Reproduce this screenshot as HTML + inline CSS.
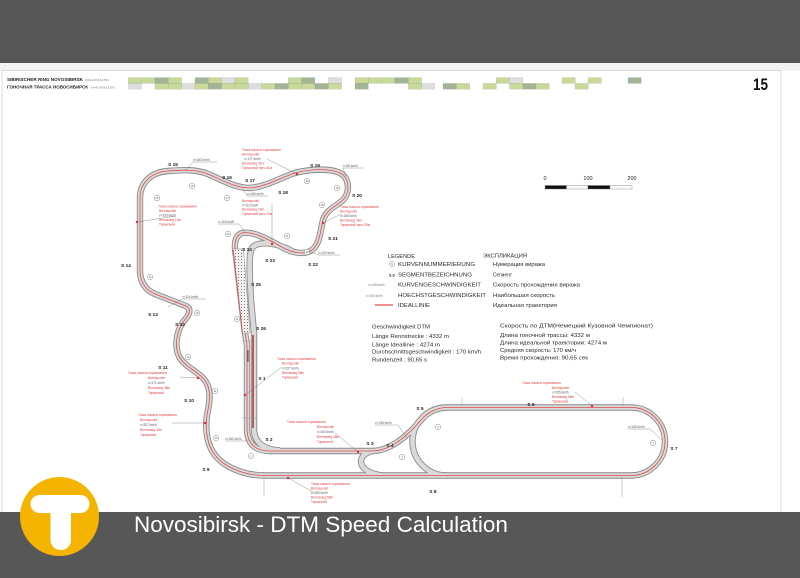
<!DOCTYPE html>
<html><head><meta charset="utf-8"><style>
html,body{margin:0;padding:0;background:#fff;}
svg{display:block;font-family:"Liberation Sans","Noto Sans CJK SC",sans-serif;}
</style></head><body>
<svg width="800" height="578" viewBox="0 0 800 578" xmlns="http://www.w3.org/2000/svg">
<defs>
<pattern id="dots" width="3" height="3" patternUnits="userSpaceOnUse"><rect width="3" height="3" fill="#f2f2f2"/><circle cx="1.5" cy="1.5" r="0.5" fill="#555"/></pattern>
<path id="m" d="M245,333 L247,345 L247,428 Q247,451 270,451 L372,451 C392,451 410,433 421,420 A34,34 0 0 1 446.5,407.5 L631,407.5 A34,34 0 0 1 631,475.5 L265,475.5 C245,475.5 225,468 215,455 C207,445 205,430 207,415 C209,405 212,392 206,382 C200,372 186,368 180,358 C174,348 176,333 183,322 Q194,310 186,306 L155,294 Q141,288 140,272 L140,198 C140,182 152,172 168,171 C182,170 196,169 208,174 C222,180 235,188 250,188 C265,187 280,178 295,173 C310,169 330,168 340,173 C350,178 350,193 343,200 C335,207 326,210 323,220 C320,232 320,244 312,250 C303,256 290,252 280,246 C266,238 252,231 242,233 C234,236 234,246 236,256 Z"/>
<path id="pit" d="M292,251 C278,243 258,240 252,248 C248,256 250,280 251,300 L254,333 L254,430 Q255,449 280,450.5"/>
<path id="ov" d="M446.5,407.5 A34,34 0 0 0 446.5,475.5"/>
<path id="s3" d="M372,451 C356,455 356,472 382,475.5"/>
</defs>

<!-- bands / page -->
<rect x="0" y="0" width="800" height="63" fill="#575757"/>
<rect x="0" y="63" width="800" height="8" fill="#f2f2f2"/>
<rect x="2" y="70.5" width="779" height="445" fill="#fff" stroke="#d4d4d4" stroke-width="0.8"/>

<!-- header -->
<text x="7" y="81" font-size="4.6" font-weight="bold" fill="#222" textLength="76" lengthAdjust="spacingAndGlyphs">SIBIRISCHER RING NOVOSIBIRSK</text>
<text x="85" y="81" font-size="3" fill="#888" textLength="24" lengthAdjust="spacingAndGlyphs">M42/M1150</text>
<text x="7" y="88.5" font-size="4.6" font-weight="bold" fill="#222" textLength="81" lengthAdjust="spacingAndGlyphs">ГОНОЧНАЯ ТРАССА НОВОСИБИРСК</text>
<text x="91" y="88.5" font-size="3" fill="#888" textLength="24" lengthAdjust="spacingAndGlyphs">M42/M1150</text>
<text x="753" y="90" font-size="16.5" font-weight="bold" fill="#111" textLength="15" lengthAdjust="spacingAndGlyphs">15</text>

<!-- block strip -->
<g stroke="rgba(0,0,0,0.15)" stroke-width="0.4">
<rect x="128.3" y="77.6" width="13.3" height="5.8" fill="#c9d99a"/><rect x="128.3" y="83.4" width="13.3" height="5.8" fill="#dedede"/>
<rect x="141.6" y="77.6" width="13.3" height="5.8" fill="#c9d99a"/>
<rect x="155" y="77.6" width="13.3" height="5.8" fill="#a2b596"/><rect x="155" y="83.4" width="13.3" height="5.8" fill="#c9d99a"/>
<rect x="168.3" y="77.6" width="13.3" height="5.8" fill="#c9d99a"/><rect x="168.3" y="83.4" width="13.3" height="5.8" fill="#c9d99a"/>
<rect x="181.6" y="83.4" width="13.3" height="5.8" fill="#dedede"/>
<rect x="195" y="77.6" width="13.3" height="5.8" fill="#a2b596"/><rect x="195" y="83.4" width="13.3" height="5.8" fill="#c9d99a"/>
<rect x="208.3" y="77.6" width="13.3" height="5.8" fill="#c9d99a"/><rect x="208.3" y="83.4" width="13.3" height="5.8" fill="#a2b596"/>
<rect x="221.6" y="77.6" width="13.3" height="5.8" fill="#dedede"/><rect x="221.6" y="83.4" width="13.3" height="5.8" fill="#c9d99a"/>
<rect x="235" y="77.6" width="13.3" height="5.8" fill="#c9d99a"/><rect x="235" y="83.4" width="13.3" height="5.8" fill="#c9d99a"/>
<rect x="248.3" y="83.4" width="13.3" height="5.8" fill="#dedede"/>
<rect x="261.6" y="83.4" width="13.3" height="5.8" fill="#c9d99a"/>
<rect x="275" y="83.4" width="13.3" height="5.8" fill="#a2b596"/>
<rect x="288.3" y="77.6" width="13.3" height="5.8" fill="#c9d99a"/><rect x="288.3" y="83.4" width="13.3" height="5.8" fill="#c9d99a"/>
<rect x="301.6" y="77.6" width="13.3" height="5.8" fill="#a2b596"/><rect x="301.6" y="83.4" width="13.3" height="5.8" fill="#c9d99a"/>
<rect x="315" y="83.4" width="13.3" height="5.8" fill="#a2b596"/>
<rect x="328.3" y="77.6" width="13.3" height="5.8" fill="#dedede"/><rect x="328.3" y="83.4" width="13.3" height="5.8" fill="#c9d99a"/>
<rect x="355" y="77.6" width="13.3" height="5.8" fill="#c9d99a"/><rect x="355" y="83.4" width="13.3" height="5.8" fill="#a2b596"/>
<rect x="368.3" y="77.6" width="13.3" height="5.8" fill="#c9d99a"/>
<rect x="381.6" y="77.6" width="13.3" height="5.8" fill="#c9d99a"/>
<rect x="395" y="77.6" width="13.3" height="5.8" fill="#a2b596"/>
<rect x="408.3" y="77.6" width="13.3" height="5.8" fill="#c9d99a"/><rect x="408.3" y="83.4" width="13.3" height="5.8" fill="#c9d99a"/>
<rect x="421.6" y="83.4" width="13.3" height="5.8" fill="#dedede"/>
<rect x="443" y="83.4" width="13.3" height="5.8" fill="#a2b596"/>
<rect x="456.5" y="83.4" width="13.3" height="5.8" fill="#c9d99a"/>
<rect x="483" y="83.4" width="13.3" height="5.8" fill="#c9d99a"/>
<rect x="496" y="77.6" width="13.3" height="5.8" fill="#c9d99a"/>
<rect x="509.5" y="77.6" width="13.3" height="5.8" fill="#dedede"/><rect x="509.5" y="83.4" width="13.3" height="5.8" fill="#c9d99a"/>
<rect x="523" y="83.4" width="13.3" height="5.8" fill="#a2b596"/>
<rect x="536" y="83.4" width="13.3" height="5.8" fill="#c9d99a"/>
<rect x="562" y="77.6" width="13.3" height="5.8" fill="#c9d99a"/>
<rect x="575" y="83.4" width="13.3" height="5.8" fill="#c9d99a"/>
<rect x="588" y="77.6" width="13.3" height="5.8" fill="#c9d99a"/>
<rect x="628" y="77.6" width="13.3" height="5.8" fill="#a2b596"/>
</g>

<!-- scale bar -->
<g font-size="5.5" fill="#222" text-anchor="middle">
<text x="545" y="180">0</text><text x="588" y="180">100</text><text x="632" y="180">200</text>
</g>
<g stroke="#777" stroke-width="0.4">
<rect x="545" y="185.5" width="21.5" height="3.5" fill="#111"/>
<rect x="566.5" y="185.5" width="21.5" height="3.5" fill="#fff"/>
<rect x="588" y="185.5" width="22" height="3.5" fill="#111"/>
<rect x="610" y="185.5" width="22" height="3.5" fill="#fff"/>
</g>

<!-- track edges -->
<g fill="none" stroke="#8a8a8a" stroke-width="6.4">
<use href="#m"/><use href="#pit"/><use href="#ov"/><use href="#s3"/>
</g>
<g fill="none" stroke="#dadada" stroke-width="4.6">
<use href="#m"/><use href="#pit"/><use href="#ov"/><use href="#s3"/>
</g>
<use href="#m" fill="none" stroke="#e04848" stroke-width="0.8"/>
<polygon points="232.5,249 243.5,249 250,333 242,333" fill="url(#dots)" stroke="#888" stroke-width="0.5"/>
<line x1="233.3" y1="250" x2="242.5" y2="333" stroke="#e04848" stroke-width="0.8"/>
<line x1="253" y1="335" x2="253" y2="428" stroke="#a51c1c" stroke-width="1.3"/>
<line x1="248" y1="350" x2="248" y2="362" stroke="#222" stroke-width="0.8"/>

<!-- ticks -->
<g stroke="#999" stroke-width="0.5">
<line x1="462" y1="398" x2="462" y2="406"/><line x1="623" y1="397" x2="623" y2="406"/>
<line x1="264" y1="477" x2="264" y2="496"/><line x1="622" y1="477" x2="622" y2="497"/>
<line x1="242" y1="341" x2="252" y2="341"/><line x1="242" y1="418" x2="256" y2="418"/>
</g>

<!-- segment labels -->
<g font-size="4.8" font-weight="bold" fill="#222" text-anchor="middle">
<text x="262" y="380">S 1</text><text x="269" y="441">S 2</text><text x="370" y="445">S 3</text><text x="390" y="447">S 4</text>
<text x="420" y="410">S 5</text><text x="531" y="406">S 6</text><text x="674" y="450">S 7</text><text x="433" y="493">S 8</text>
<text x="206" y="471">S 9</text><text x="189" y="402">S 10</text><text x="163" y="369">S 11</text><text x="180" y="326">S 12</text>
<text x="153" y="316">S 13</text><text x="126" y="267">S 14</text><text x="173" y="166">S 15</text><text x="227" y="179">S 16</text>
<text x="250" y="182">S 17</text><text x="283" y="194">S 18</text><text x="315" y="167">S 19</text><text x="357" y="197">S 20</text>
<text x="333" y="240">S 21</text><text x="313" y="266">S 22</text><text x="270" y="262">S 23</text><text x="247" y="251">S 24</text>
<text x="256" y="286">S 25</text><text x="261" y="330">S 26</text>
</g>

<!-- turn circles -->
<g fill="#fff" stroke="#777" stroke-width="0.45">
<circle cx="157" cy="198" r="2.8"/><circle cx="192" cy="186" r="2.8"/><circle cx="227" cy="198" r="2.8"/>
<circle cx="307" cy="181" r="2.8"/><circle cx="337" cy="188" r="2.8"/><circle cx="322" cy="205" r="2.8"/>
<circle cx="228" cy="234" r="2.8"/><circle cx="287" cy="236" r="2.8"/><circle cx="307" cy="252" r="2.8"/>
<circle cx="150" cy="277" r="2.8"/><circle cx="197" cy="313" r="2.8"/><circle cx="188" cy="357" r="2.8"/>
<circle cx="215" cy="391" r="2.8"/><circle cx="216" cy="438" r="2.8"/><circle cx="237" cy="319" r="2.8"/>
<circle cx="251" cy="456" r="2.8"/><circle cx="438" cy="427" r="2.8"/><circle cx="402" cy="457" r="2.8"/>
<circle cx="653" cy="443" r="2.8"/><circle cx="392" cy="264" r="2.6"/>
</g>
<g font-size="2.4" fill="#444" text-anchor="middle">
<text x="157" y="199">15</text><text x="192" y="187">16</text><text x="227" y="199">17</text>
<text x="307" y="182">18</text><text x="337" y="189">19</text><text x="322" y="206">20</text>
<text x="228" y="235">23</text><text x="287" y="237">21</text><text x="307" y="253">22</text>
<text x="150" y="278">14</text><text x="197" y="314">13</text><text x="188" y="358">12</text>
<text x="215" y="392">11</text><text x="216" y="439">10</text><text x="237" y="320">24</text>
<text x="251" y="457">1</text><text x="438" y="428">3</text><text x="402" y="458">2</text>
<text x="653" y="444">4</text><text x="392" y="265">N</text>
</g>

<!-- speed labels -->
<g font-size="3.2" fill="#555">
<text x="193" y="161">v=163 km/h</text><text x="343" y="167">v=96 km/h</text><text x="247" y="195">v=106 km/h</text>
<text x="218" y="223">v=116 km/h</text><text x="318" y="254">v=120 km/h</text><text x="182" y="298">v=114 km/h</text>
<text x="225" y="440">v=152 km/h</text><text x="375" y="424">v=135 km/h</text><text x="628" y="428">v=155 km/h</text>
</g>
<g stroke="#666" stroke-width="0.35" fill="none">
<path d="M193,162 H217 M193,162 L185,171"/><path d="M343,168 H364 M343,168 L346,176"/>
<path d="M247,196 H268 M247,196 L243,189"/><path d="M218,224 H239 L245,232"/>
<path d="M318,255 H340 M318,255 L308,251"/><path d="M182,299 H206 M182,299 L168,307"/>
<path d="M225,441 H247 L245,436"/><path d="M375,425 H398 L407,438"/><path d="M628,429 H650 L662,440"/>
<!-- annotation leaders -->
<path d="M267,159 L297,174"/><path d="M176,216 L137,222"/><path d="M272,203 L272,244"/>
<path d="M341,214 L323,223"/><path d="M282,367 L245,395"/><path d="M180,377 L198,378"/>
<path d="M172,423 L205,423"/><path d="M335,433 L358,452"/><path d="M313,492 L288,478"/>
<path d="M575,392 L592,406"/>
</g>
<g fill="#d83030">
<circle cx="297" cy="174" r="1.2"/><circle cx="137" cy="222" r="1.2"/><circle cx="272" cy="244" r="1.2"/>
<circle cx="323" cy="223" r="1.2"/><circle cx="245" cy="395" r="1.2"/><circle cx="198" cy="378" r="1.2"/>
<circle cx="205" cy="423" r="1.2"/><circle cx="358" cy="452" r="1.2"/><circle cx="288" cy="478" r="1.2"/>
<circle cx="592" cy="406" r="1.2"/>
</g>

<!-- red annotation blocks -->
<g font-size="3.2" fill="#e04040">
<text x="242" y="151">Точка начала торможения</text><text x="242" y="155.5">Bremspunkt</text><text x="244" y="160" fill="#555">v=177 km/h</text><text x="242" y="164.5">Bremsweg 31m</text><text x="242" y="169">Тормозной путь 31м</text>
<text x="158" y="207.5">Точка начала торможения</text><text x="159" y="212">Bremspunkt</text><text x="159" y="216.5" fill="#555">v=233 km/h</text><text x="159" y="221">Bremsweg 13m</text><text x="159" y="225.5">Тормозной</text>
<text x="242" y="202">Bremspunkt</text><text x="242" y="206.3" fill="#555">v=112 km/h</text><text x="242" y="210.6">Bremsweg 14m</text><text x="242" y="215">Тормозной путь 14м</text>
<text x="340" y="208">Точка начала торможения</text><text x="340" y="212.5">Bremspunkt</text><text x="340" y="217" fill="#555">v=150 km/h</text><text x="340" y="221.5">Bremsweg 26m</text><text x="340" y="226">Тормозной путь 25м</text>
<text x="277" y="360">Точка начала торможения</text><text x="282" y="364.7">Bremspunkt</text><text x="282" y="369.3" fill="#555">v=227 km/h</text><text x="282" y="374">Bremsweg 58m</text><text x="282" y="378.7">Тормозной</text>
<text x="128" y="374">Точка начала торможения</text><text x="148" y="379">Bremspunkt</text><text x="148" y="384" fill="#555">v=171 km/h</text><text x="148" y="389">Bremsweg 38m</text><text x="148" y="394">Тормозной</text>
<text x="138" y="416">Точка начала торможения</text><text x="140" y="421">Bremspunkt</text><text x="140" y="426" fill="#555">v=207 km/h</text><text x="140" y="431">Bremsweg 32m</text><text x="140" y="436">Тормозной</text>
<text x="287" y="423">Точка начала торможения</text><text x="317" y="428">Bremspunkt</text><text x="317" y="433" fill="#555">v=200 km/h</text><text x="317" y="438">Bremsweg 48m</text><text x="317" y="443">Тормозной</text>
<text x="311" y="485">Точка начала торможения</text><text x="311" y="489.5">Bremspunkt</text><text x="311" y="494" fill="#555">v=260 km/h</text><text x="311" y="498.5">Bremsweg 58m</text><text x="311" y="503">Тормозной</text>
<text x="522" y="384">Точка начала торможения</text><text x="552" y="389">Bremspunkt</text><text x="552" y="393.5" fill="#555">v=235 km/h</text><text x="552" y="398">Bremsweg 65m</text><text x="552" y="402.5">Тормозной</text>
</g>

<!-- legend -->
<g fill="#2a2a2a">
<text x="388" y="258" font-size="5.8" textLength="27" lengthAdjust="spacingAndGlyphs">LEGENDE</text>
<text x="483" y="257.5" font-size="5.8" textLength="44" lengthAdjust="spacingAndGlyphs">ЭКСПЛИКАЦИЯ</text>
<text x="398" y="266.2" font-size="5.8" textLength="77" lengthAdjust="spacingAndGlyphs">KURVENNUMMERIERUNG</text>
<text x="398" y="276.5" font-size="5.8" textLength="74" lengthAdjust="spacingAndGlyphs">SEGMENTBEZEICHNUNG</text>
<text x="398" y="286.5" font-size="5.8" textLength="83" lengthAdjust="spacingAndGlyphs">KURVENGESCHWINDIGKEIT</text>
<text x="398" y="297.2" font-size="5.8" textLength="88" lengthAdjust="spacingAndGlyphs">HOECHSTGESCHWINDIGKEIT</text>
<text x="398" y="307.2" font-size="5.8" textLength="32" lengthAdjust="spacingAndGlyphs">IDEALLINIE</text>
<text x="493" y="266" font-size="5.3" textLength="52" lengthAdjust="spacingAndGlyphs">Нумерация виража</text>
<text x="493" y="276.3" font-size="5.3" textLength="19" lengthAdjust="spacingAndGlyphs">Сегмент</text>
<text x="493" y="286.3" font-size="5.3" textLength="87" lengthAdjust="spacingAndGlyphs">Скорость прохождения виража</text>
<text x="493" y="297" font-size="5.3" textLength="62" lengthAdjust="spacingAndGlyphs">Наибольшая скорость</text>
<text x="493" y="307" font-size="5.3" textLength="64" lengthAdjust="spacingAndGlyphs">Идеальная траектория</text>
<text x="389" y="276.3" font-size="3.6" font-weight="bold">S.S</text>
</g>
<g font-size="3.2" fill="#777">
<text x="368" y="286">v=145 km/h</text><text x="366" y="297">v=200 km/h</text>
</g>
<line x1="375" y1="305" x2="393" y2="305" stroke="#e05050" stroke-width="1.3"/>

<g fill="#2a2a2a" font-size="5.5">
<text x="372" y="328.7" textLength="58" lengthAdjust="spacingAndGlyphs">Geschwindigkeit DTM</text>
<text x="372" y="338" textLength="77" lengthAdjust="spacingAndGlyphs">Länge Rennstrecke : 4332 m</text>
<text x="372" y="346.3" textLength="68" lengthAdjust="spacingAndGlyphs">Länge Ideallinie : 4274 m</text>
<text x="372" y="353.7" textLength="109" lengthAdjust="spacingAndGlyphs">Durchschnittsgeschwindigkeit : 170 km/h</text>
<text x="372" y="361.3" textLength="55" lengthAdjust="spacingAndGlyphs">Rundenzeit : 90,65 s</text>
<text x="500" y="327.7" textLength="153" lengthAdjust="spacingAndGlyphs">Скорость по ДТМ(Немецкий Кузовной Чемпионат)</text>
<text x="500" y="337" textLength="90" lengthAdjust="spacingAndGlyphs">Длина гоночной трассы: 4332 м</text>
<text x="500" y="344.7" textLength="107" lengthAdjust="spacingAndGlyphs">Длина идеальной траектории: 4274 м</text>
<text x="500" y="352" textLength="76" lengthAdjust="spacingAndGlyphs">Средняя скорость: 170 км/ч</text>
<text x="500" y="359.3" textLength="88" lengthAdjust="spacingAndGlyphs">Время прохождения: 90,65 сек</text>
</g>

<!-- bottom band -->
<rect x="0" y="512" width="800" height="66" fill="#575757"/>
<circle cx="59.5" cy="516.5" r="39.5" fill="#F5B400"/>
<rect x="30.5" y="495" width="59" height="18" rx="9" fill="#fff"/>
<rect x="50.5" y="500" width="20.5" height="50" rx="10" fill="#fff"/>
<text x="134" y="532" font-size="22.5" fill="#fff">Novosibirsk - DTM Speed Calculation</text>
</svg>
</body></html>
